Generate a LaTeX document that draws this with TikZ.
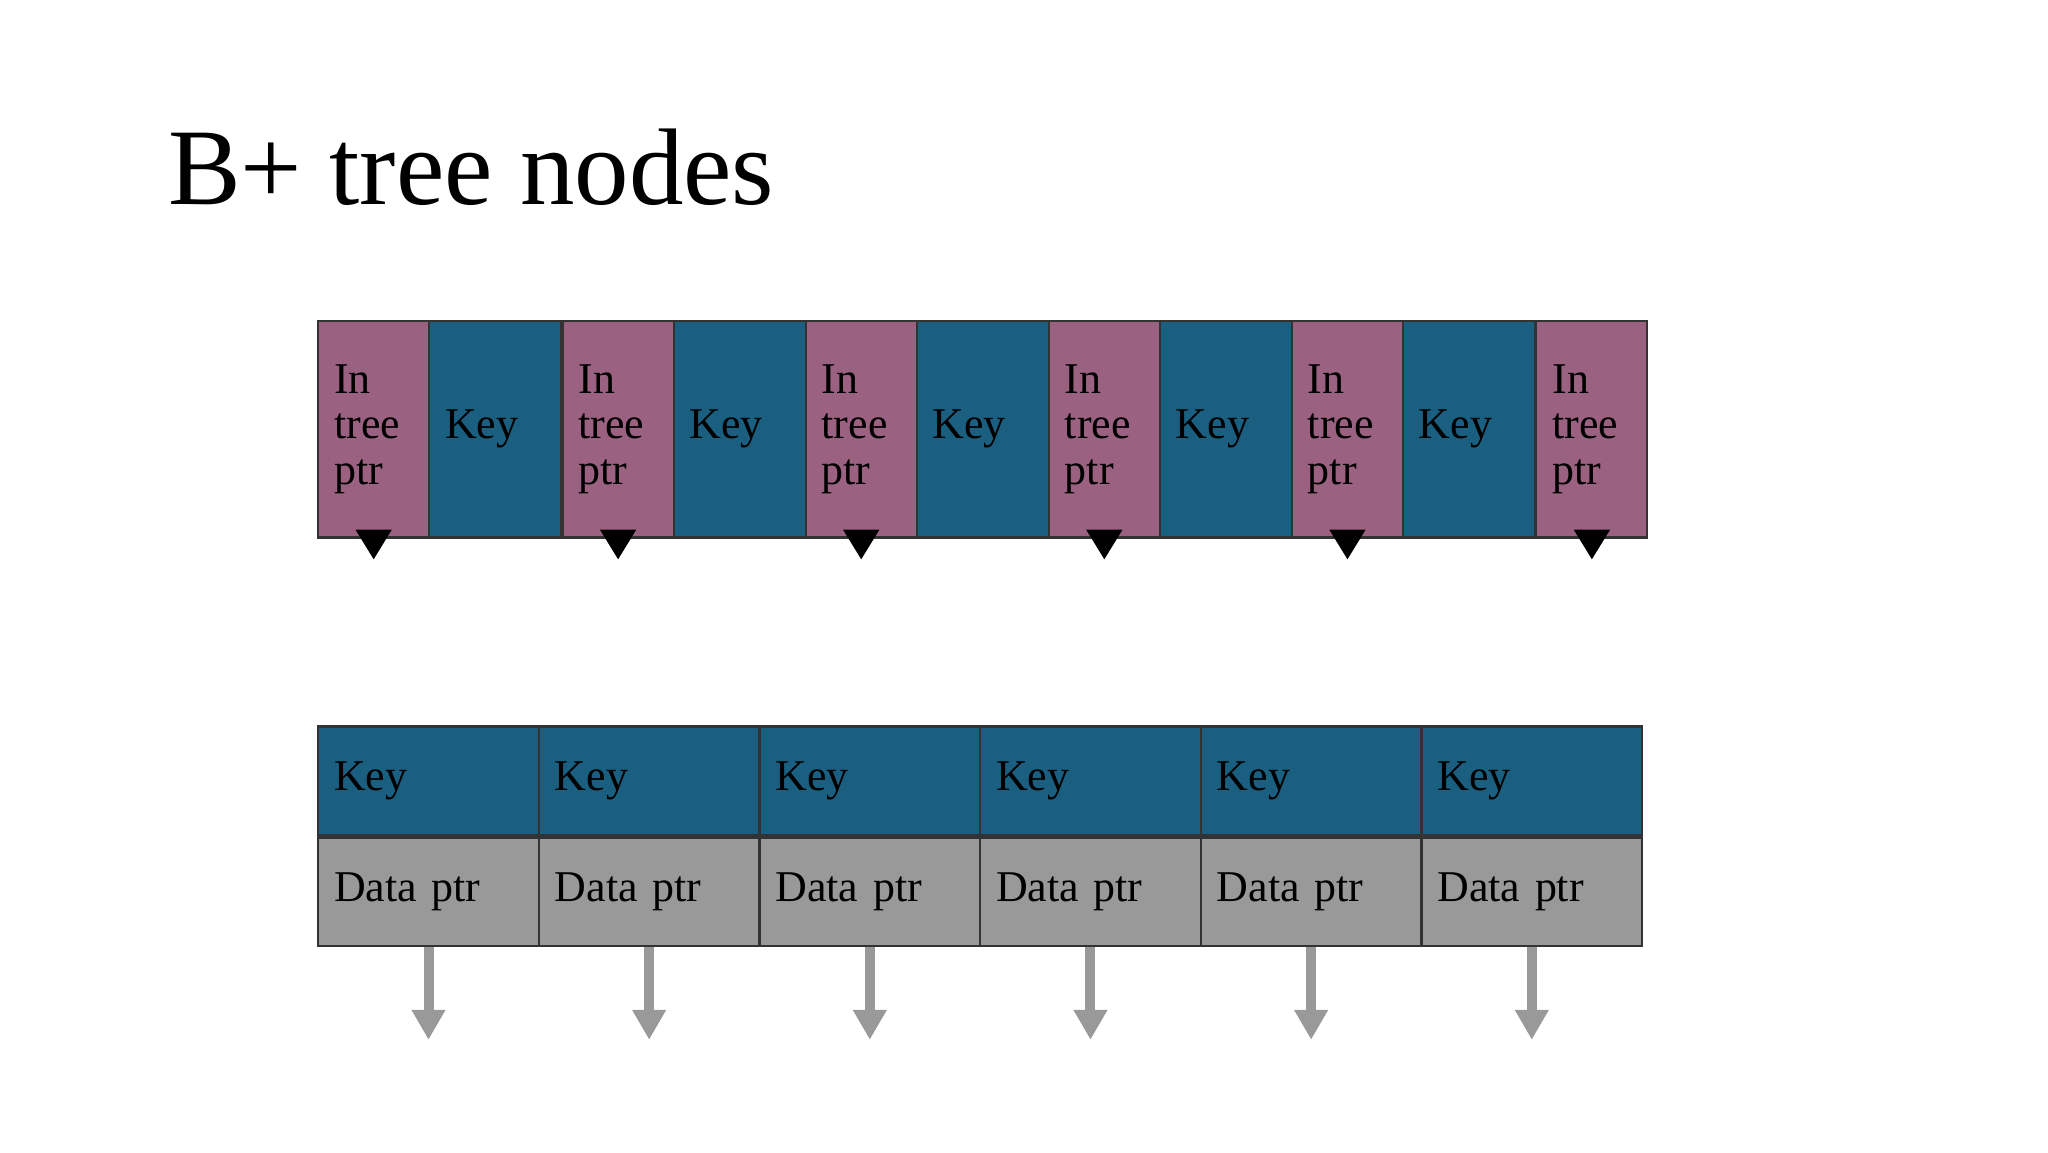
\documentclass[tikz,border=0pt]{standalone}
\usepackage{fontspec}
\setmainfont{Liberation Serif}
\usetikzlibrary{arrows.meta}
\definecolor{ptrpink}{HTML}{9A6280}
\definecolor{keyblue}{HTML}{1A5F80}
\definecolor{datagray}{HTML}{999999}
\begin{document}
\begin{tikzpicture}[x=0.013213cm,y=-0.013213cm,
  cell/.style={draw=black!80,line width=0.6pt,rectangle,anchor=north west,
    inner xsep=0.16cm,align=left,font=\fontsize{12.5}{13}\selectfont},
  ptr/.style={cell,fill=ptrpink,minimum width=1.11cm,text width=0.79cm,minimum height=2.167cm},
  key/.style={cell,fill=keyblue,minimum width=1.321cm,text width=1.0cm,minimum height=2.167cm},
  bkey/.style={cell,fill=keyblue,minimum width=2.207cm,text width=1.887cm,minimum height=1.083cm},
  bdat/.style={bkey,fill=datagray},
  blkarr/.style={line width=0.1cm,-{Triangle[width=0.34cm,length=0.3cm]}},
  grayarr/.style={line width=0.1cm,draw=datagray,-{Triangle[width=0.32cm,length=0.3cm]},color=datagray}]
\useasboundingbox (0,0) rectangle (1550,872);
\node[anchor=base west,font=\fontsize{31}{31}\selectfont] (title) at (118,155) {B+ tree nodes};
% top (internal) node
\foreach \x/\i in {240/1,425/2,609/3,793/4,977/5,1162/6}{
  \node[ptr] (p\i) at (\x,242) {In\\tree\\ptr};
  \coordinate (pe\i) at ([yshift=-2.4cm]p\i.north);
  \draw[blkarr] ([yshift=-0.05cm]p\i.south) -- (pe\i);
}
\foreach \x/\i in {324/1,509/2,693/3,877/4,1061/5}{
  \node[key] (k\i) at (\x,242) {Key};
}
% bottom (leaf) node
\foreach \x/\i in {240/1,407/2,574/3,741/4,908/5,1075/6}{
  \node[bkey] (bk\i) at (\x,549) {Key};
  \node[bdat] (bd\i) at (\x,633) {Data ptr};
  \coordinate (be\i) at ([yshift=-0.93cm]bd\i.south);
  \draw[grayarr] (bd\i.south) -- (be\i);
}
\end{tikzpicture}
\end{document}
